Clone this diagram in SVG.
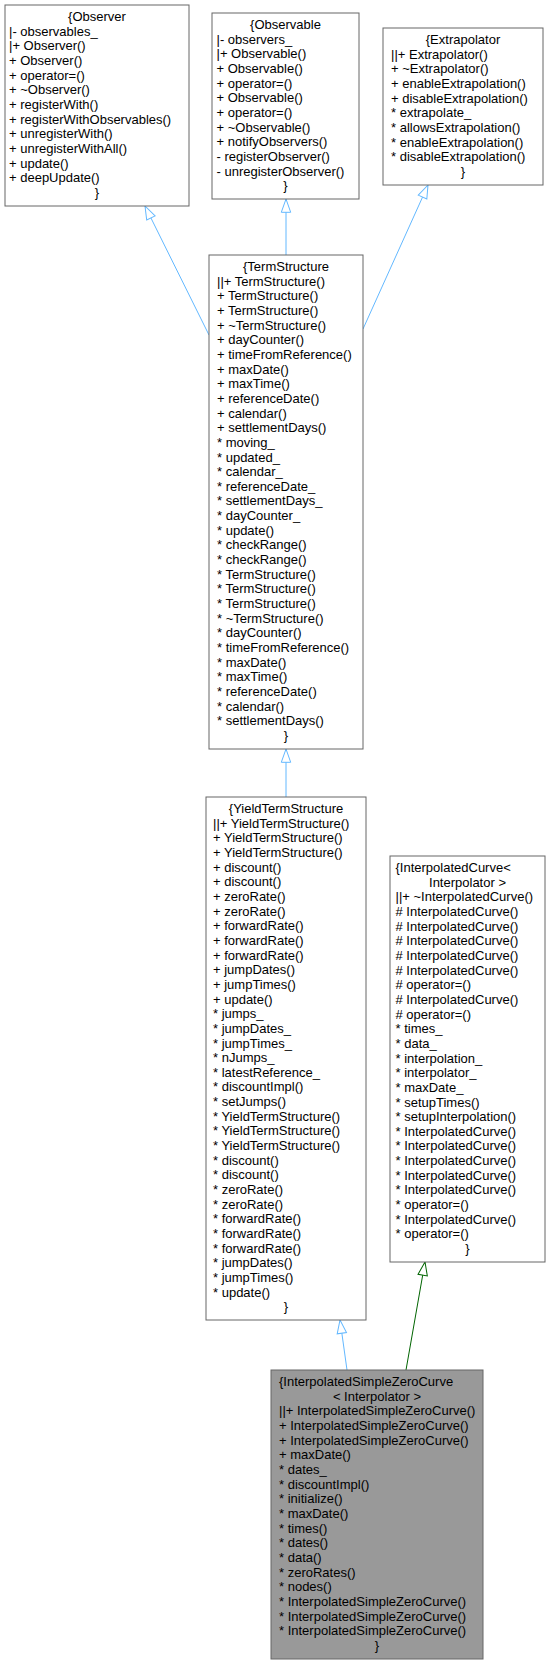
<svg xmlns="http://www.w3.org/2000/svg" width="550" height="1664" viewBox="0 0 550 1664">
<style>
.box{fill:#ffffff;stroke:#666666;stroke-width:1}
.cur{fill:#999999;stroke:#666666;stroke-width:1}
text{font-family:"Liberation Sans",Arial,Helvetica,sans-serif;font-size:13px;fill:#000000}
.c{text-anchor:middle}
.e{fill:none;stroke-width:1}
.blue{stroke:#63B8FF}
.green{stroke:#006400}
</style>
<defs>
<marker id="ab" markerUnits="userSpaceOnUse" markerWidth="16" markerHeight="12" viewBox="-1 -6 16 12" refX="13.3" refY="0" orient="auto">
<path d="M0,-4.7 L13.3,0 L0,4.7 Z" fill="#ffffff" stroke="#63B8FF" stroke-width="1"/>
</marker>
<marker id="ag" markerUnits="userSpaceOnUse" markerWidth="16" markerHeight="12" viewBox="-1 -6 16 12" refX="13.3" refY="0" orient="auto">
<path d="M0,-4.7 L13.3,0 L0,4.7 Z" fill="#ffffff" stroke="#006400" stroke-width="1"/>
</marker>
</defs>
<rect x="0" y="0" width="550" height="1664" fill="#ffffff"/>

<g id="connectors">
<path class="e blue" d="M209,335 L145,206" marker-end="url(#ab)"/>
<path class="e blue" d="M286,255 L286,199" marker-end="url(#ab)"/>
<path class="e blue" d="M363,329 L428,185" marker-end="url(#ab)"/>
<path class="e blue" d="M286,797 L286,749" marker-end="url(#ab)"/>
<path class="e blue" d="M347,1370 L340,1320" marker-end="url(#ab)"/>
<path class="e green" d="M406,1370 L425,1262" marker-end="url(#ag)"/>
</g>

<g id="Observer">
<rect class="box" x="5" y="5" width="184" height="201"/>
<text class="c" x="97" y="21.1">{Observer</text>
<text><tspan x="9" y="35.75">|- observables_</tspan><tspan x="9" dy="14.65">|+ Observer()</tspan><tspan x="9" dy="14.65">+ Observer()</tspan><tspan x="9" dy="14.65">+ operator=()</tspan><tspan x="9" dy="14.65">+ ~Observer()</tspan><tspan x="9" dy="14.65">+ registerWith()</tspan><tspan x="9" dy="14.65">+ registerWithObservables()</tspan><tspan x="9" dy="14.65">+ unregisterWith()</tspan><tspan x="9" dy="14.65">+ unregisterWithAll()</tspan><tspan x="9" dy="14.65">+ update()</tspan><tspan x="9" dy="14.65">+ deepUpdate()</tspan></text>
<text class="c" x="97" y="196.9">}</text>
</g>

<g id="Observable">
<rect class="box" x="212" y="13" width="147" height="186"/>
<text class="c" x="285.5" y="29.1">{Observable</text>
<text><tspan x="216.5" y="43.75">|- observers_</tspan><tspan x="216.5" dy="14.65">|+ Observable()</tspan><tspan x="216.5" dy="14.65">+ Observable()</tspan><tspan x="216.5" dy="14.65">+ operator=()</tspan><tspan x="216.5" dy="14.65">+ Observable()</tspan><tspan x="216.5" dy="14.65">+ operator=()</tspan><tspan x="216.5" dy="14.65">+ ~Observable()</tspan><tspan x="216.5" dy="14.65">+ notifyObservers()</tspan><tspan x="216.5" dy="14.65">- registerObserver()</tspan><tspan x="216.5" dy="14.65">- unregisterObserver()</tspan></text>
<text class="c" x="285.5" y="190.25">}</text>
</g>

<g id="Extrapolator">
<rect class="box" x="383" y="28" width="160" height="157"/>
<text class="c" x="463" y="44.1">{Extrapolator</text>
<text><tspan x="391" y="58.75">||+ Extrapolator()</tspan><tspan x="391" dy="14.65">+ ~Extrapolator()</tspan><tspan x="391" dy="14.65">+ enableExtrapolation()</tspan><tspan x="391" dy="14.65">+ disableExtrapolation()</tspan><tspan x="391" dy="14.65">* extrapolate_</tspan><tspan x="391" dy="14.65">* allowsExtrapolation()</tspan><tspan x="391" dy="14.65">* enableExtrapolation()</tspan><tspan x="391" dy="14.65">* disableExtrapolation()</tspan></text>
<text class="c" x="463" y="175.95">}</text>
</g>

<g id="TermStructure">
<rect class="box" x="209" y="255" width="154" height="494"/>
<text class="c" x="286" y="271.1">{TermStructure</text>
<text><tspan x="217" y="285.75">||+ TermStructure()</tspan><tspan x="217" dy="14.65">+ TermStructure()</tspan><tspan x="217" dy="14.65">+ TermStructure()</tspan><tspan x="217" dy="14.65">+ ~TermStructure()</tspan><tspan x="217" dy="14.65">+ dayCounter()</tspan><tspan x="217" dy="14.65">+ timeFromReference()</tspan><tspan x="217" dy="14.65">+ maxDate()</tspan><tspan x="217" dy="14.65">+ maxTime()</tspan><tspan x="217" dy="14.65">+ referenceDate()</tspan><tspan x="217" dy="14.65">+ calendar()</tspan><tspan x="217" dy="14.65">+ settlementDays()</tspan><tspan x="217" dy="14.65">* moving_</tspan><tspan x="217" dy="14.65">* updated_</tspan><tspan x="217" dy="14.65">* calendar_</tspan><tspan x="217" dy="14.65">* referenceDate_</tspan><tspan x="217" dy="14.65">* settlementDays_</tspan><tspan x="217" dy="14.65">* dayCounter_</tspan><tspan x="217" dy="14.65">* update()</tspan><tspan x="217" dy="14.65">* checkRange()</tspan><tspan x="217" dy="14.65">* checkRange()</tspan><tspan x="217" dy="14.65">* TermStructure()</tspan><tspan x="217" dy="14.65">* TermStructure()</tspan><tspan x="217" dy="14.65">* TermStructure()</tspan><tspan x="217" dy="14.65">* ~TermStructure()</tspan><tspan x="217" dy="14.65">* dayCounter()</tspan><tspan x="217" dy="14.65">* timeFromReference()</tspan><tspan x="217" dy="14.65">* maxDate()</tspan><tspan x="217" dy="14.65">* maxTime()</tspan><tspan x="217" dy="14.65">* referenceDate()</tspan><tspan x="217" dy="14.65">* calendar()</tspan><tspan x="217" dy="14.65">* settlementDays()</tspan></text>
<text class="c" x="286" y="739.9">}</text>
</g>

<g id="YieldTermStructure">
<rect class="box" x="206" y="797" width="160" height="523"/>
<text class="c" x="286" y="813.1">{YieldTermStructure</text>
<text><tspan x="213" y="827.75">||+ YieldTermStructure()</tspan><tspan x="213" dy="14.65">+ YieldTermStructure()</tspan><tspan x="213" dy="14.65">+ YieldTermStructure()</tspan><tspan x="213" dy="14.65">+ discount()</tspan><tspan x="213" dy="14.65">+ discount()</tspan><tspan x="213" dy="14.65">+ zeroRate()</tspan><tspan x="213" dy="14.65">+ zeroRate()</tspan><tspan x="213" dy="14.65">+ forwardRate()</tspan><tspan x="213" dy="14.65">+ forwardRate()</tspan><tspan x="213" dy="14.65">+ forwardRate()</tspan><tspan x="213" dy="14.65">+ jumpDates()</tspan><tspan x="213" dy="14.65">+ jumpTimes()</tspan><tspan x="213" dy="14.65">+ update()</tspan><tspan x="213" dy="14.65">* jumps_</tspan><tspan x="213" dy="14.65">* jumpDates_</tspan><tspan x="213" dy="14.65">* jumpTimes_</tspan><tspan x="213" dy="14.65">* nJumps_</tspan><tspan x="213" dy="14.65">* latestReference_</tspan><tspan x="213" dy="14.65">* discountImpl()</tspan><tspan x="213" dy="14.65">* setJumps()</tspan><tspan x="213" dy="14.65">* YieldTermStructure()</tspan><tspan x="213" dy="14.65">* YieldTermStructure()</tspan><tspan x="213" dy="14.65">* YieldTermStructure()</tspan><tspan x="213" dy="14.65">* discount()</tspan><tspan x="213" dy="14.65">* discount()</tspan><tspan x="213" dy="14.65">* zeroRate()</tspan><tspan x="213" dy="14.65">* zeroRate()</tspan><tspan x="213" dy="14.65">* forwardRate()</tspan><tspan x="213" dy="14.65">* forwardRate()</tspan><tspan x="213" dy="14.65">* forwardRate()</tspan><tspan x="213" dy="14.65">* jumpDates()</tspan><tspan x="213" dy="14.65">* jumpTimes()</tspan><tspan x="213" dy="14.65">* update()</tspan></text>
<text class="c" x="286" y="1311.2">}</text>
</g>

<g id="InterpolatedCurve">
<rect class="box" x="390" y="856" width="155" height="406"/>
<text x="395.5" y="872.1">{InterpolatedCurve&lt;</text>
<text class="c" x="467.5" y="886.75">Interpolator &gt;</text>
<text><tspan x="395.5" y="901.4">||+ ~InterpolatedCurve()</tspan><tspan x="395.5" dy="14.65"># InterpolatedCurve()</tspan><tspan x="395.5" dy="14.65"># InterpolatedCurve()</tspan><tspan x="395.5" dy="14.65"># InterpolatedCurve()</tspan><tspan x="395.5" dy="14.65"># InterpolatedCurve()</tspan><tspan x="395.5" dy="14.65"># InterpolatedCurve()</tspan><tspan x="395.5" dy="14.65"># operator=()</tspan><tspan x="395.5" dy="14.65"># InterpolatedCurve()</tspan><tspan x="395.5" dy="14.65"># operator=()</tspan><tspan x="395.5" dy="14.65">* times_</tspan><tspan x="395.5" dy="14.65">* data_</tspan><tspan x="395.5" dy="14.65">* interpolation_</tspan><tspan x="395.5" dy="14.65">* interpolator_</tspan><tspan x="395.5" dy="14.65">* maxDate_</tspan><tspan x="395.5" dy="14.65">* setupTimes()</tspan><tspan x="395.5" dy="14.65">* setupInterpolation()</tspan><tspan x="395.5" dy="14.65">* InterpolatedCurve()</tspan><tspan x="395.5" dy="14.65">* InterpolatedCurve()</tspan><tspan x="395.5" dy="14.65">* InterpolatedCurve()</tspan><tspan x="395.5" dy="14.65">* InterpolatedCurve()</tspan><tspan x="395.5" dy="14.65">* InterpolatedCurve()</tspan><tspan x="395.5" dy="14.65">* operator=()</tspan><tspan x="395.5" dy="14.65">* InterpolatedCurve()</tspan><tspan x="395.5" dy="14.65">* operator=()</tspan></text>
<text class="c" x="467.5" y="1253">}</text>
</g>

<g id="InterpolatedSimpleZeroCurve">
<rect class="cur" x="271" y="1370" width="212" height="289"/>
<text x="279" y="1386.1">{InterpolatedSimpleZeroCurve</text>
<text class="c" x="377" y="1400.75">&lt; Interpolator &gt;</text>
<text><tspan x="279" y="1415.4">||+ InterpolatedSimpleZeroCurve()</tspan><tspan x="279" dy="14.65">+ InterpolatedSimpleZeroCurve()</tspan><tspan x="279" dy="14.65">+ InterpolatedSimpleZeroCurve()</tspan><tspan x="279" dy="14.65">+ maxDate()</tspan><tspan x="279" dy="14.65">* dates_</tspan><tspan x="279" dy="14.65">* discountImpl()</tspan><tspan x="279" dy="14.65">* initialize()</tspan><tspan x="279" dy="14.65">* maxDate()</tspan><tspan x="279" dy="14.65">* times()</tspan><tspan x="279" dy="14.65">* dates()</tspan><tspan x="279" dy="14.65">* data()</tspan><tspan x="279" dy="14.65">* zeroRates()</tspan><tspan x="279" dy="14.65">* nodes()</tspan><tspan x="279" dy="14.65">* InterpolatedSimpleZeroCurve()</tspan><tspan x="279" dy="14.65">* InterpolatedSimpleZeroCurve()</tspan><tspan x="279" dy="14.65">* InterpolatedSimpleZeroCurve()</tspan></text>
<text class="c" x="377" y="1649.8">}</text>
</g>
</svg>
